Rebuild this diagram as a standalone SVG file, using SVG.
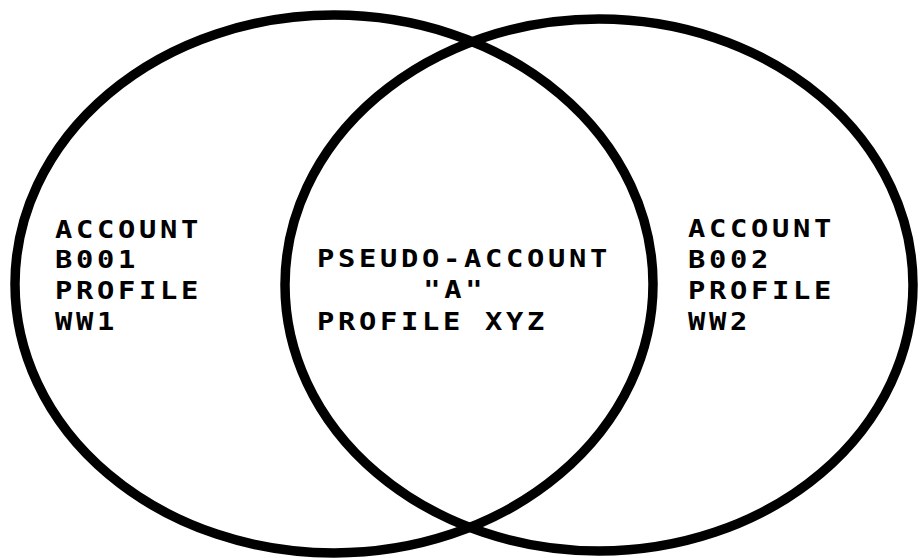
<svg xmlns="http://www.w3.org/2000/svg" width="921" height="558" viewBox="0 0 921 558">
  <style>
    .ring { fill: none; stroke: #000; stroke-width: 9.5; }
    .label { font-family: "DejaVu Sans Mono", "Liberation Mono", monospace; font-weight: bold; font-size: 25px; letter-spacing: 3.2px; fill: #000; }
  </style>
  <rect width="921" height="558" fill="#fff"/>

  <!-- Account B001 -->
  <g id="account-b001">
    <ellipse class="ring" cx="334" cy="284" rx="319" ry="269"/>
    <!-- labels are widened horizontally; x values are in the scaled frame -->
    <g transform="scale(1.15 1)">
      <text class="label" x="47.8" y="238">ACCOUNT</text>
      <text class="label" x="47.8" y="268">B001</text>
      <text class="label" x="47.8" y="299">PROFILE</text>
      <text class="label" x="47.8" y="330">WW1</text>
    </g>
  </g>

  <!-- Account B002 -->
  <g id="account-b002">
    <ellipse class="ring" cx="599" cy="285" rx="314" ry="266"/>
    <g transform="scale(1.15 1)">
      <text class="label" x="598.3" y="237">ACCOUNT</text>
      <text class="label" x="598.3" y="268">B002</text>
      <text class="label" x="598.3" y="299">PROFILE</text>
      <text class="label" x="598.3" y="330">WW2</text>
    </g>
  </g>

  <!-- Shared region: pseudo-account -->
  <g id="pseudo-account-a">
    <g transform="scale(1.15 1)">
      <text class="label" x="275.7" y="267">PSEUDO-ACCOUNT</text>
      <text class="label" x="368" y="298">"A"</text>
      <text class="label" x="275.7" y="330">PROFILE XYZ</text>
    </g>
  </g>
</svg>
